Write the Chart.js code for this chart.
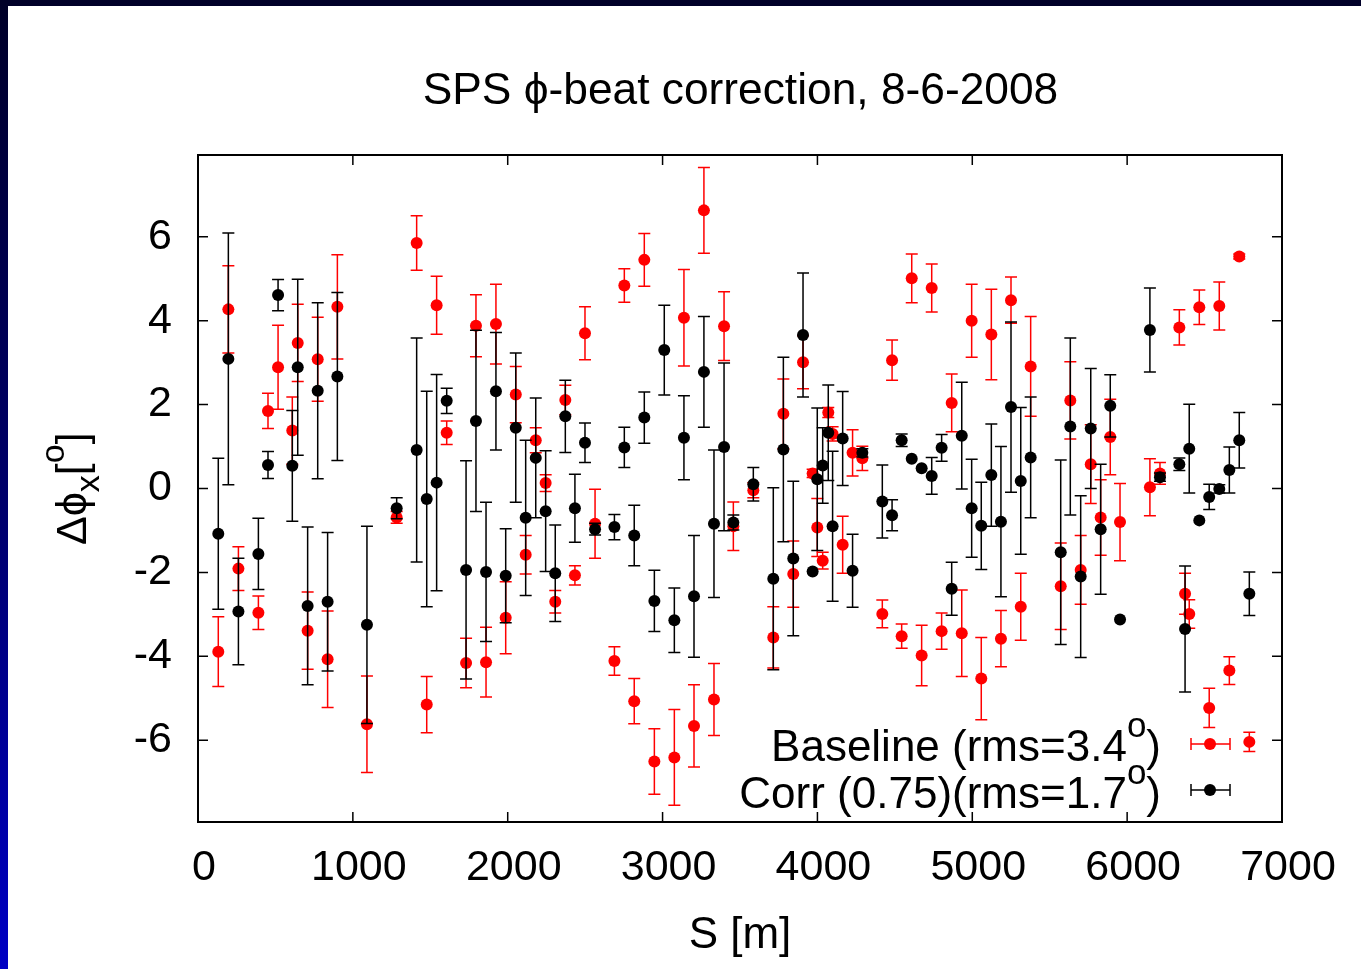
<!DOCTYPE html>
<html>
<head>
<meta charset="utf-8">
<script src="https://cdn.jsdelivr.net/npm/chart.js@4"></script>
<style>
html, body { margin: 0; padding: 0; }
body {
  width: 1361px; height: 969px; overflow: hidden; position: relative;
  background: linear-gradient(to bottom, #000028 0%, #000070 55%, #0000c4 100%);
}
#wrap { position: absolute; left: 8px; top: 6px; width: 1353px; height: 963px; background: #fff; }
</style>
</head>
<body>
<div id="wrap"><canvas id="c" width="1353" height="963"></canvas></div>
<script>
// Baseline (red) - position S [m], phase beat [deg], error
const sBase = [131, 196, 261, 390, 452, 517, 609, 644, 708, 773, 837, 900, 1091, 1283, 1412, 1477, 1541, 1606,
  1731, 1795, 1860, 1924, 1987, 2052, 2116, 2181, 2245, 2307, 2372, 2434, 2499, 2564, 2689, 2753, 2817, 2882,
  2947, 3076, 3138, 3203, 3267, 3332, 3397, 3457, 3586, 3715, 3780, 3844, 3907, 3969, 3999, 4034, 4070, 4098,
  4163, 4227, 4290, 4419, 4482, 4544, 4609, 4673, 4738, 4802, 4867, 4932, 4996, 5058, 5123, 5185, 5250, 5313,
  5377, 5571, 5633, 5700, 5765, 5829, 5891, 5954, 6147, 6212, 6337, 6374, 6401, 6466, 6530, 6595, 6660, 6724, 6789];
const dphiBase = [-3.89, 4.27, -1.91, -2.96, 1.85, 2.89, 1.38, 3.47, -3.39, 3.08, -4.07, 4.33, -5.62, -0.69, 5.85, -5.15, 4.37, 1.33,
  -4.16, 3.88, -4.14, 3.92, -3.08, 2.24, -1.58, 1.15, 0.13, -2.70, 2.11, -2.07, 3.70, -0.84, -4.11, 4.84, -5.07, 5.45,
  -6.51, -6.41, 4.07, -5.66, 6.63, -5.03, 3.87, -0.90, -0.04, -3.55, 1.78, -2.04, 3.01, 0.36, -0.93, -1.72, 1.81, 1.30,
  -1.34, 0.85, 0.72, -2.99, 3.06, -3.52, 5.01, -3.98, 4.78, -3.40, 2.04, -3.45, 4.00, -4.53, 3.67, -3.58, 4.49, -2.82,
  2.91, -2.33, 2.10, -1.94, 0.58, -0.69, 1.23, -0.80, 0.03, 0.36, 3.84, -2.51, -2.99, 4.32, -5.23, 4.35, -4.34, 5.53, -6.04];
const errBase = [0.83, 1.04, 0.52, 0.40, 0.42, 1.00, 0.80, 0.92, 0.92, 1.00, 1.15, 1.24, 1.15, 0.14, 0.65, 0.67, 0.69, 0.28,
  0.59, 0.74, 0.83, 0.95, 0.86, 0.67, 0.46, 0.30, 0.20, 0.27, 0.35, 0.23, 0.63, 0.82, 0.34, 0.40, 0.54, 0.63,
  0.78, 1.14, 1.15, 0.98, 1.02, 0.86, 0.82, 0.58, 0.18, 0.73, 0.83, 0.79, 0.63, 0.10, 0.69, 0.20, 0.12, 0.17,
  0.68, 0.55, 0.29, 0.33, 0.48, 0.29, 0.58, 0.72, 0.57, 0.43, 0.69, 1.03, 0.87, 0.98, 1.08, 0.67, 0.55, 0.80,
  1.19, 1.03, 0.92, 0.82, 0.94, 0.90, 0.90, 0.92, 0.68, 0.26, 0.42, 0.49, 0.34, 0.41, 0.47, 0.57, 0.33, 0.06, 0.23];

// Corrected (black)
const sCorr = [131, 196, 261, 390, 452, 517, 609, 644, 708, 773, 837, 900, 1091, 1283, 1412, 1477, 1541, 1606,
  1731, 1795, 1860, 1924, 1987, 2052, 2116, 2181, 2245, 2307, 2372, 2434, 2499, 2564, 2689, 2753, 2817, 2882,
  2947, 3011, 3076, 3138, 3203, 3267, 3332, 3397, 3457, 3586, 3715, 3780, 3844, 3907, 3969, 3999, 4034, 4070, 4098,
  4163, 4227, 4290, 4419, 4482, 4544, 4609, 4673, 4738, 4802, 4867, 4932, 4996, 5058, 5123, 5185, 5250, 5313,
  5377, 5571, 5633, 5700, 5765, 5829, 5891, 5954, 6147, 6212, 6337, 6374, 6401, 6466, 6530, 6595, 6660, 6724, 6789];
const dphiCorr = [-1.08, 3.09, -2.93, -1.56, 0.56, 4.61, 0.54, 2.89, -2.80, 2.33, -2.70, 2.67, -3.25, -0.47, 0.92, -0.25, 0.14, 2.09,
  -1.94, 1.61, -1.99, 2.32, -2.08, 1.45, -0.70, 0.73, -0.54, -2.02, 1.72, -0.47, 1.09, -0.97, -0.92, 0.98, -1.12, 1.69,
  -2.68, 3.30, -3.14, 1.21, -2.57, 2.78, -0.84, 0.99, -0.81, 0.10, -2.15, 0.93, -1.67, 3.66, -1.98, 0.22, 0.55, 1.33, -0.90,
  1.19, -1.96, 0.85, -0.31, -0.64, 1.15, 0.71, 0.48, 0.30, 0.97, -2.39, 1.26, -0.47, -0.89, 0.32, -0.79, 1.94, 0.18,
  0.74, -1.52, 1.48, -2.10, 1.43, -0.97, 1.97, -3.12, 3.78, 0.27, 0.58, -3.35, 0.95, -0.76, -0.20, -0.01, 0.44, 1.15, -2.51];
const errCorr = [1.80, 3.00, 1.27, 0.85, 0.32, 0.37, 1.32, 2.10, 1.88, 2.10, 1.65, 2.00, 2.35, 0.25, 2.67, 2.57, 2.58, 0.30,
  2.60, 2.16, 1.66, 1.40, 1.12, 1.78, 1.85, 1.43, 1.44, 1.15, 0.86, 0.81, 0.47, 0.14, 0.30, 0.48, 0.72, 0.61,
  0.73, 1.07, 0.77, 1.00, 1.45, 1.32, 1.76, 2.00, 0.18, 0.40, 2.17, 2.20, 1.84, 1.48, 0, 1.70, 0.90, 1.14, 1.79,
  1.12, 0.87, 0.10, 0.87, 0.37, 0.15, 0, 0, 0.44, 0.32, 0.63, 1.27, 1.17, 1.04, 1.22, 1.79, 2.03, 1.75,
  1.44, 2.20, 2.11, 1.93, 1.43, 1.55, 0.74, 0, 1.00, 0.10, 0.15, 1.50, 1.06, 0, 0.30, 0.10, 0.55, 0.66, 0.52];

const xTickStep = 1000;
const yTickStep = 2;
const FONT = "'Liberation Sans', Arial, Helvetica, sans-serif";

function drawParts(ctx, parts, x, y) {
  let cx = x;
  parts.forEach(([t, size, dy]) => {
    ctx.font = size + 'px ' + FONT;
    ctx.fillText(t, cx, y + dy);
    cx += ctx.measureText(t).width;
  });
  return cx - x;
}
function partsWidth(ctx, parts) {
  let w = 0;
  parts.forEach(([t, size]) => { ctx.font = size + 'px ' + FONT; w += ctx.measureText(t).width; });
  return w;
}

const errorBars = {
  id: 'errorBars',
  beforeDatasetDraw(chart, args) {
    const ds = chart.data.datasets[args.index];
    const { ctx, scales: { x, y } } = chart;
    ctx.save();
    ctx.strokeStyle = ds.borderColor;
    ctx.lineWidth = 1.5;
    ds.data.forEach((p, i) => {
      const e = ds.errors[i];
      if (!e) return;
      const px = x.getPixelForValue(p.x);
      const top = y.getPixelForValue(p.y + e), bot = y.getPixelForValue(p.y - e);
      ctx.beginPath();
      ctx.moveTo(px, top); ctx.lineTo(px, bot);
      ctx.moveTo(px - 6, top); ctx.lineTo(px + 6, top);
      ctx.moveTo(px - 6, bot); ctx.lineTo(px + 6, bot);
      ctx.stroke();
    });
    ctx.restore();
  }
};

const decor = {
  id: 'decor',
  afterDraw(chart) {
    const { ctx, chartArea: a, scales: { x, y } } = chart;
    ctx.save();
    // inward ticks (mirrored)
    ctx.strokeStyle = '#000';
    ctx.lineWidth = 1.5;
    ctx.beginPath();
    x.ticks.forEach(t => {
      const px = x.getPixelForValue(t.value);
      ctx.moveTo(px, a.bottom); ctx.lineTo(px, a.bottom - 10);
      ctx.moveTo(px, a.top); ctx.lineTo(px, a.top + 10);
    });
    y.ticks.forEach(t => {
      const py = y.getPixelForValue(t.value);
      ctx.moveTo(a.left, py); ctx.lineTo(a.left + 10, py);
      ctx.moveTo(a.right, py); ctx.lineTo(a.right - 10, py);
    });
    ctx.stroke();
    ctx.lineWidth = 2;
    ctx.strokeRect(a.left, a.top, a.right - a.left, a.bottom - a.top);

    ctx.fillStyle = '#000';
    ctx.textBaseline = 'alphabetic';
    ctx.textAlign = 'left';

    // title
    const title = [['SPS \u03D5-beat correction, 8-6-2008', 44.3, 0]];
    drawParts(ctx, title, 732.5 - partsWidth(ctx, title) / 2, 98);

    // x title
    const xt = [['S [m]', 44, 0]];
    drawParts(ctx, xt, 732 - partsWidth(ctx, xt) / 2, 942);

    // y title, rotated
    ctx.save();
    ctx.translate(78, 539);
    ctx.rotate(-Math.PI / 2);
    drawParts(ctx, [['\u0394\u03D5', 43, 0], ['x', 34, 13], ['[', 43, 0], ['o', 34, -22], [']', 43, 0]], 0, 0);
    ctx.restore();

    // legend
    const rows = [
      { parts: [['Baseline (rms=3.4', 44, 0], ['o', 35, -24], [')', 44, 0]], color: '#ff0000', base: 755, dot: 738 },
      { parts: [['Corr (0.75)(rms=1.7', 44, 0], ['o', 35, -24], [')', 44, 0]], color: '#000000', base: 802, dot: 784 }
    ];
    rows.forEach(r => {
      ctx.fillStyle = '#000';
      drawParts(ctx, r.parts, 1153 - partsWidth(ctx, r.parts), r.base);
      ctx.strokeStyle = r.color;
      ctx.fillStyle = r.color;
      ctx.lineWidth = 1.5;
      ctx.beginPath();
      ctx.moveTo(1183, r.dot); ctx.lineTo(1222, r.dot);
      ctx.moveTo(1183, r.dot - 6); ctx.lineTo(1183, r.dot + 6);
      ctx.moveTo(1222, r.dot - 6); ctx.lineTo(1222, r.dot + 6);
      ctx.stroke();
      ctx.beginPath();
      ctx.arc(1202, r.dot, 6, 0, Math.PI * 2);
      ctx.fill();
    });
    ctx.restore();
  }
};

Chart.defaults.font.family = FONT;
Chart.defaults.color = '#000';

new Chart(document.getElementById('c').getContext('2d'), {
  type: 'scatter',
  data: {
    datasets: [
      {
        label: 'Baseline (rms=3.4)',
        data: sBase.map((s, i) => ({ x: s, y: dphiBase[i] })),
        errors: errBase,
        backgroundColor: '#ff0000',
        borderColor: '#ff0000',
        pointRadius: 6,
        pointBorderWidth: 0,
        order: 2
      },
      {
        label: 'Corr (0.75)(rms=1.7)',
        data: sCorr.map((s, i) => ({ x: s, y: dphiCorr[i] })),
        errors: errCorr,
        backgroundColor: '#000000',
        borderColor: '#000000',
        pointRadius: 6,
        pointBorderWidth: 0,
        order: 1
      }
    ]
  },
  options: {
    responsive: false,
    animation: false,
    layout: { padding: { top: 149, right: 79, left: 0, bottom: 0 } },
    plugins: { legend: { display: false }, title: { display: false }, tooltip: { enabled: false } },
    scales: {
      x: {
        type: 'linear', min: 0, max: 7000,
        grid: { display: false, drawTicks: false },
        border: { display: false },
        ticks: { stepSize: xTickStep, labelOffset: 6, padding: 20, maxRotation: 0, autoSkip: false,
                 font: { size: 43 }, color: '#000', callback: v => String(v) },
        afterFit(s) { s.height = 147; }
      },
      y: {
        type: 'linear', min: -7.95, max: 7.95,
        grid: { display: false, drawTicks: false },
        border: { display: false },
        ticks: { stepSize: yTickStep, includeBounds: false, padding: 26,
                 font: { size: 43 }, color: '#000', callback: v => String(v) },
        afterFit(s) { s.width = 190; }
      }
    }
  },
  plugins: [errorBars, decor]
});
</script>
</body>
</html>
